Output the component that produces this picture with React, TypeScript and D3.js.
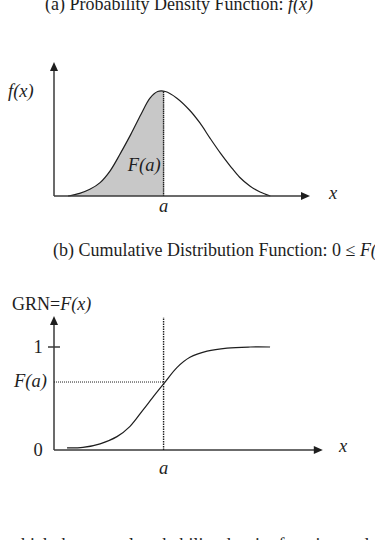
import React from "react";
import * as d3 from "d3";

// Panel (a): probability density
const pdfX = [0.55, 1.0, 1.4, 1.8, 2.2, 2.6, 3.0, 3.4, 3.75, 4.05, 4.35, 4.8, 5.3, 5.7, 6.1, 6.5, 6.9, 7.25, 7.65, 8.05, 8.45];
const pdfY = [0, 0.02, 0.05, 0.1, 0.19, 0.32, 0.46, 0.61, 0.73, 0.78, 0.78, 0.73, 0.64, 0.545, 0.43, 0.32, 0.22, 0.14, 0.075, 0.03, 0];

// Panel (b): cumulative distribution
const cdfX = [0.51, 1.13, 1.8, 2.46, 2.97, 3.48, 3.95, 4.34, 4.8, 5.31, 5.98, 6.76, 7.66, 8.44];
const cdfY = [0.02, 0.025, 0.06, 0.13, 0.23, 0.39, 0.54, 0.66, 0.8, 0.9, 0.96, 0.99, 1.0, 1.0];

const aValue = [4.28];
const Fa = [0.66];
const cdfTicks = [0, 1];

const titleA = "(a) Probability Density Function: ";
const titleB = "(b) Cumulative Distribution Function: 0 \u2264 ";
const bottomText = "which the normal probability density function and the";

const FONT = "'Liberation Serif', 'Times New Roman', serif";
const AXIS = "#3a3a3a";
const INK = "#1e1e1e";

export default function App() {
  const x = d3.scaleLinear().domain([0, 10]).range([54, 310]);
  const yA = d3.scaleLinear().domain([0, 1]).range([196, 62]);
  const yB = d3.scaleLinear().domain([0, 1]).range([450, 347]);

  const pdf = pdfX.map((v, i) => [v, pdfY[i]] as [number, number]);
  const cdf = cdfX.map((v, i) => [v, cdfY[i]] as [number, number]);

  const curve = d3.curveCatmullRom.alpha(0.5);
  const lineA = d3.line<[number, number]>().x(d => x(d[0])).y(d => yA(d[1])).curve(curve);
  const areaA = d3.area<[number, number]>().x(d => x(d[0])).y0(yA(0)).y1(d => yA(d[1])).curve(curve);
  const lineB = d3.line<[number, number]>().x(d => x(d[0])).y(d => yB(d[1])).curve(curve);

  const a = aValue[0];
  const idx = d3.bisector((d: [number, number]) => d[0]).left(pdf, a);
  const p0 = pdf[idx - 1], p1 = pdf[idx];
  const pdfAtA = p0[1] + ((a - p0[0]) / (p1[0] - p0[0])) * (p1[1] - p0[1]);

  const xAxisEndA = x(10);
  const xAxisEndB = x(10.5);

  return (
    <svg width={375} height={540} style={{ position: "absolute", left: 0, top: 0, background: "#fff" }} fontFamily={FONT}>
      <defs>
        <clipPath id="clipA">
          <rect x={x(0)} y={0} width={x(a) - x(0)} height={540} />
        </clipPath>
      </defs>

      {/* Panel (a) */}
      <text x={45} y={10} fontSize={18} fill={INK}>
        {titleA}
        <tspan fontStyle="italic">f(x)</tspan>
      </text>

      <path d={areaA(pdf) || ""} fill="#c8c8c8" clipPath="url(#clipA)" />
      <line x1={x(a)} x2={x(a)} y1={yA(0)} y2={yA(pdfAtA)} stroke={INK} strokeWidth={1.4} strokeDasharray="1.5,0.6" />
      <path d={lineA(pdf) || ""} fill="none" stroke={INK} strokeWidth={1.2} />

      <line x1={x(0)} x2={x(0)} y1={yA(0)} y2={yA(1) + 6} stroke={AXIS} strokeWidth={1.5} />
      <path d={`M${x(0)},${yA(1)} l-4,9 l8,0 z`} fill={INK} />
      <line x1={x(0)} x2={xAxisEndA - 6} y1={yA(0)} y2={yA(0)} stroke={AXIS} strokeWidth={1.5} />
      <path d={`M${xAxisEndA},${yA(0)} l-9,-4 l0,8 z`} fill={INK} />

      <text x={8} y={97} fontSize={18.5} fontStyle="italic" fill={INK}>f(x)</text>
      <text x={329} y={199} fontSize={18.5} fontStyle="italic" fill={INK}>x</text>
      <text x={x(a)} y={212} fontSize={18.5} fontStyle="italic" textAnchor="middle" fill={INK}>a</text>
      <text x={x(a) - 3} y={171} fontSize={18.5} fontStyle="italic" textAnchor="end" fill={INK}>F(a)</text>

      {/* Panel (b) */}
      <text x={53} y={256} fontSize={18} fill={INK}>
        {titleB}
        <tspan fontStyle="italic">F(x)</tspan>
        {" \u2264 1"}
      </text>

      <text x={12} y={310} fontSize={18} fill={INK}>
        GRN=<tspan fontStyle="italic">F(x)</tspan>
      </text>

      <line x1={x(0)} x2={x(0)} y1={yB(0)} y2={yB(1.3) + 6} stroke={AXIS} strokeWidth={1.5} />
      <path d={`M${x(0)},${yB(1.3)} l-4,9 l8,0 z`} fill={INK} />
      <line x1={x(0)} x2={xAxisEndB - 6} y1={yB(0)} y2={yB(0)} stroke={AXIS} strokeWidth={1.5} />
      <path d={`M${xAxisEndB},${yB(0)} l-9,-4 l0,8 z`} fill={INK} />

      {cdfTicks.map(t => (
        <g key={t}>
          {t === 1 && <line x1={x(0) - 6} x2={x(0) + 6} y1={yB(t)} y2={yB(t)} stroke={AXIS} strokeWidth={1.5} />}
          <text x={38} y={yB(t) + 6} fontSize={18.5} textAnchor="middle" fill={INK}>{t}</text>
        </g>
      ))}

      <line x1={x(0)} x2={x(a)} y1={yB(Fa[0])} y2={yB(Fa[0])} stroke={INK} strokeWidth={1} strokeDasharray="1,1" />
      <line x1={x(a)} x2={x(a)} y1={yB(0)} y2={yB(1.29)} stroke={INK} strokeWidth={1.4} strokeDasharray="1.5,1" />
      <path d={lineB(cdf) || ""} fill="none" stroke={INK} strokeWidth={1.2} />

      <text x={14} y={387} fontSize={18.5} fontStyle="italic" fill={INK}>F(a)</text>
      <text x={339} y={452} fontSize={18.5} fontStyle="italic" fill={INK}>x</text>
      <text x={x(a)} y={474} fontSize={18.5} fontStyle="italic" textAnchor="middle" fill={INK}>a</text>

      {/* cropped caption at bottom */}
      <text x={8} y={551} fontSize={18} fill={INK}>{bottomText}</text>
    </svg>
  );
}
